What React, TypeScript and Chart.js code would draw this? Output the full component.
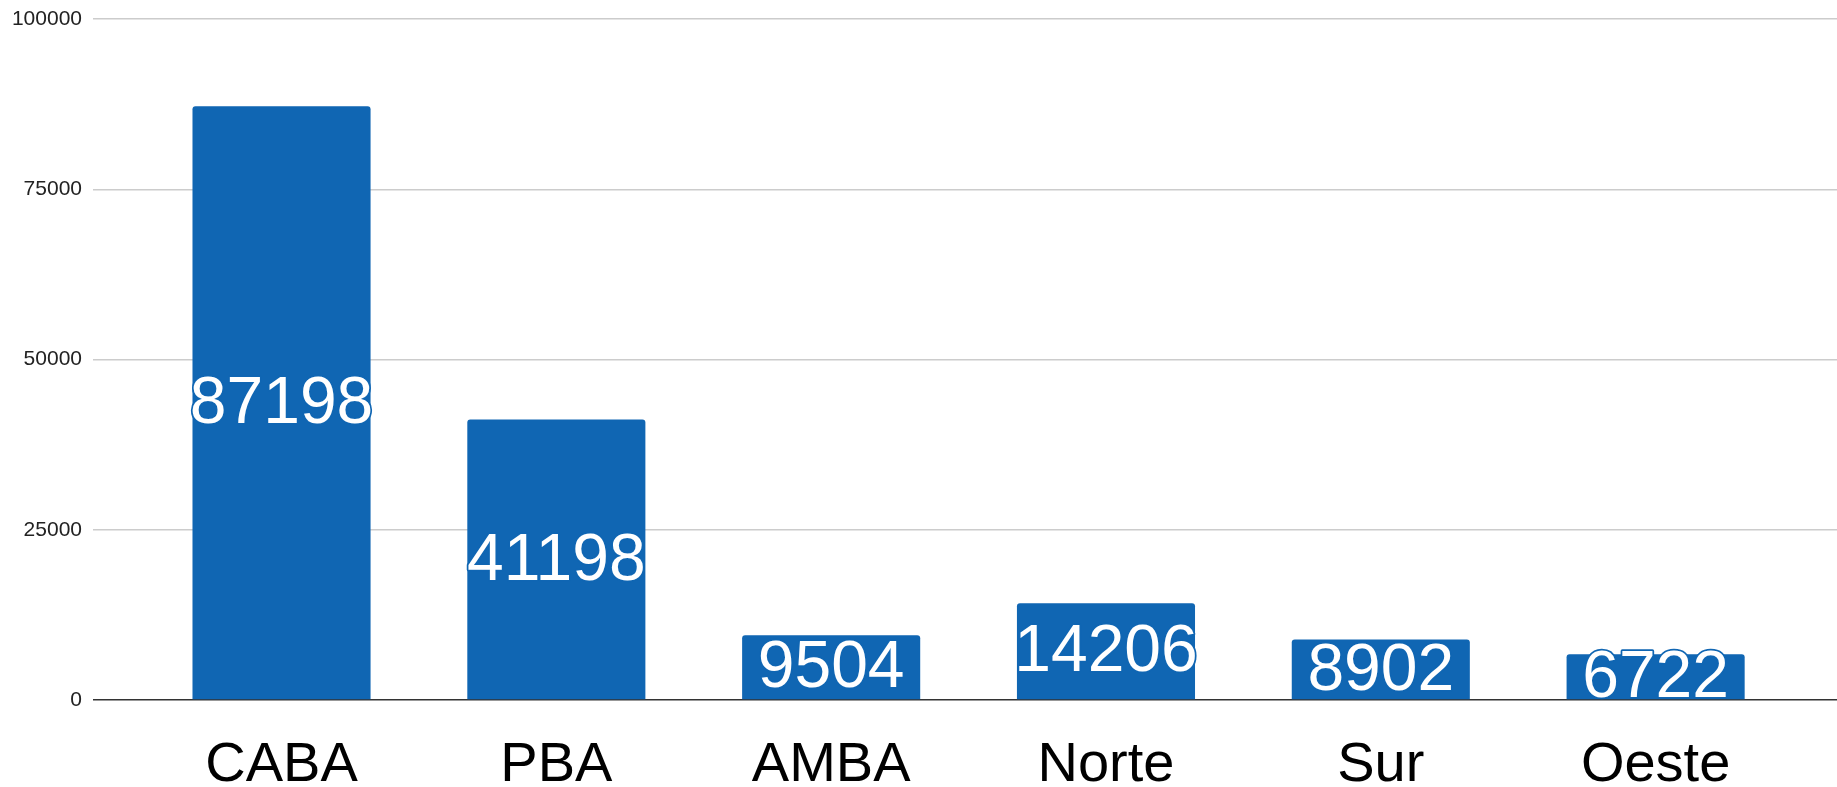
import React, { useEffect, useRef } from "react";
import { Chart, registerables } from "chart.js";

Chart.register(...registerables);

const categories = ["CABA", "PBA", "AMBA", "Norte", "Sur", "Oeste"];
const values = [87198, 41198, 9504, 14206, 8902, 6722];
const yTicks = [0, 25000, 50000, 75000, 100000];

const BAR_COLOR = "#1066b3";
const FONT = "'Liberation Sans', Arial, sans-serif";

const valueLabels = {
  id: "valueLabels",
  afterDatasetsDraw(chart: any) {
    const ctx = chart.ctx;
    const meta = chart.getDatasetMeta(0);
    ctx.save();
    ctx.font = `66px ${FONT}`;
    ctx.textAlign = "center";
    ctx.textBaseline = "middle";
    ctx.lineJoin = "round";
    meta.data.forEach((el: any, i: number) => {
      const cx = el.x;
      const cy = (el.y + el.base) / 2 + 2;
      const txt = String(values[i]);
      ctx.lineWidth = 3.5;
      ctx.strokeStyle = BAR_COLOR;
      ctx.strokeText(txt, cx, cy);
      ctx.fillStyle = "#ffffff";
      ctx.fillText(txt, cx, cy);
    });
    ctx.restore();
  },
};

export default function App() {
  const ref = useRef<HTMLCanvasElement | null>(null);
  useEffect(() => {
    if (!ref.current) return;
    const chart = new Chart(ref.current, {
      type: "bar",
      data: {
        datasets: [
          {
            data: values.map((v, i) => ({ x: i, y: v })),
            backgroundColor: BAR_COLOR,
            borderRadius: { topLeft: 3, topRight: 3, bottomLeft: 0, bottomRight: 0 },
            borderSkipped: "bottom",
            categoryPercentage: 1,
            barPercentage: 0.648,
          },
        ],
      },
      options: {
        animation: false,
        responsive: false,
        maintainAspectRatio: false,
        layout: { padding: { top: 19, right: 0, left: 0, bottom: 0 } },
        plugins: { legend: { display: false }, tooltip: { enabled: false } },
        scales: {
          x: {
            type: "linear",
            offset: false,
            min: -0.686,
            max: 5.66,
            grid: { display: false, drawTicks: false },
            border: { display: false },
            afterBuildTicks(scale: any) {
              scale.ticks = categories.map((_, i) => ({ value: i }));
            },
            afterFit(scale: any) {
              scale.height = 87;
            },
            ticks: {
              autoSkip: false,
              maxRotation: 0,
              padding: 32,
              color: "#000000",
              font: { family: FONT, size: 56 },
              callback: (v: any) => categories[v as number] ?? "",
            },
          },
          y: {
            min: 0,
            max: 100000,
            afterBuildTicks(scale: any) {
              scale.ticks = yTicks.map((v) => ({ value: v }));
            },
            afterFit(scale: any) {
              scale.width = 93;
              scale.paddingTop = 0;
              scale.paddingBottom = 0;
            },
            grid: {
              drawTicks: false,
              lineWidth: 1.5,
              color: (c: any) => (c.tick && c.tick.value === 0 ? "#333333" : "#cccccc"),
            },
            border: { display: false },
            ticks: {
              padding: 11,
              color: "#222222",
              font: { family: FONT, size: 21 },
              callback: (v: any) => String(v),
            },
          },
        },
      },
      plugins: [valueLabels],
    } as any);
    return () => chart.destroy();
  }, []);
  return (
    <div style={{ position: "fixed", left: 0, top: 0, width: 1837, height: 787, background: "#fff" }}>
      <canvas ref={ref} width={1837} height={787} style={{ width: 1837, height: 787, display: "block" }} />
    </div>
  );
}
